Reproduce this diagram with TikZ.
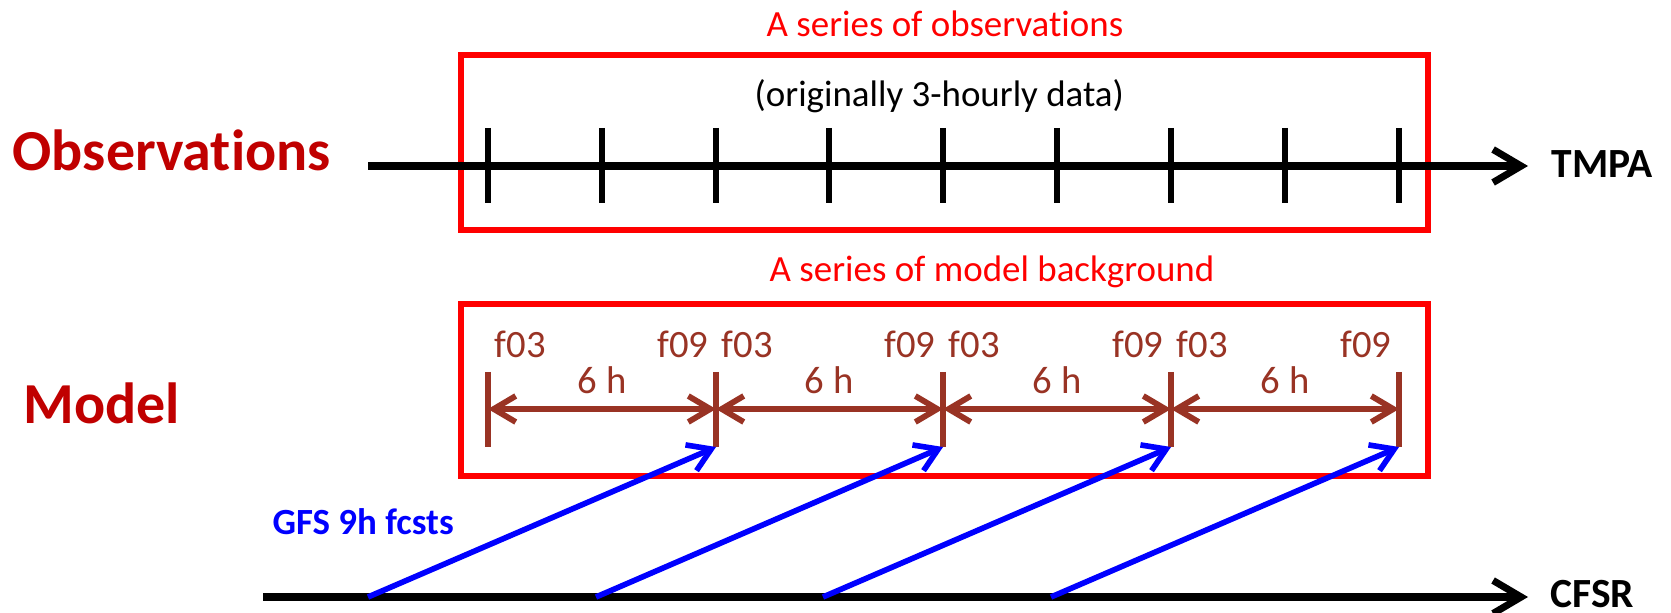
\documentclass[tikz,border=0pt]{standalone}
\usepackage{fontspec}
\setmainfont{Carlito}[Ligatures=NoCommon]
\usetikzlibrary{arrows.meta,positioning}
\definecolor{boxred}{RGB}{255,0,0}
\definecolor{labelred}{RGB}{192,0,0}
\definecolor{fcbrown}{RGB}{153,51,36}
\definecolor{fcblue}{RGB}{0,0,255}
\tikzstyle{rowlabel}=[font=\fontsize{16.5}{19}\selectfont\bfseries,text=labelred,anchor=west,inner sep=0pt]
\tikzstyle{seriesbox}=[draw=boxred,line width=1.45pt]
\tikzstyle{boxtitle}=[font=\fontsize{10.5}{12}\selectfont,text=boxred,anchor=west,inner sep=0pt]
\tikzstyle{notetext}=[font=\fontsize{10.5}{12}\selectfont,anchor=west,inner sep=0pt]
\tikzstyle{timeaxis}=[-{Straight Barb[length=2.8mm,width=3.3mm]},line width=2pt]
\tikzstyle{axislabel}=[font=\fontsize{11.8}{14}\selectfont\bfseries,anchor=west,inner sep=0pt]
\tikzstyle{obstick}=[line width=1.55pt]
\tikzstyle{fctick}=[draw=fcbrown,line width=1.5pt]
\tikzstyle{fclabel}=[font=\fontsize{11}{13}\selectfont,text=fcbrown,inner sep=0pt]
\tikzstyle{interval}=[{Straight Barb[length=2.2mm,width=2.6mm]}-{Straight Barb[length=2.2mm,width=2.6mm]},draw=fcbrown,line width=1.65pt]
\tikzstyle{fcst}=[-{Straight Barb[length=2.2mm,width=2.8mm]},draw=fcblue,line width=1.6pt]
\tikzstyle{fcstlabel}=[font=\fontsize{10.5}{12}\selectfont\bfseries,text=fcblue,anchor=west,inner sep=0pt]

\begin{document}
\begin{tikzpicture}[x=0.01cm,y=-0.01cm]
  \useasboundingbox (0,0) rectangle (1671,613);

  \node[rowlabel] (obslabel) at (12,150) {Observations};
  \node[rowlabel] (modellabel) at (23,403) {Model};

  % observations
  \node[boxtitle] (obstitle) at (766,24) {A series of observations};
  \draw[seriesbox] (461,55) rectangle (1428,230);
  \node[notetext] (note) at (754,96) {(originally 3-hourly data)};
  \coordinate (obsstart) at (368,166);
  \coordinate (obsend) at (1528,166);
  \node[axislabel] (tmpa) at (1551,164) {TMPA};
  \draw[timeaxis] (obsstart) -- (obsend);
  \draw[obstick] (488,128) -- (488,203);
  \draw[obstick] (602,128) -- (602,203);
  \draw[obstick] (716,128) -- (716,203);
  \draw[obstick] (829,128) -- (829,203);
  \draw[obstick] (943,128) -- (943,203);
  \draw[obstick] (1057,128) -- (1057,203);
  \draw[obstick] (1171,128) -- (1171,203);
  \draw[obstick] (1285,128) -- (1285,203);
  \draw[obstick] (1399,128) -- (1399,203);

  % model background
  \node[boxtitle] (modeltitle) at (769,272) {A series of model background};
  \draw[seriesbox] (461,304) rectangle (1428,476);
  \coordinate (t0) at (488,372); \coordinate (m0) at (488,409); \coordinate (b0) at (488,447);
  \coordinate (t1) at (716,372); \coordinate (m1) at (716,409); \coordinate (b1) at (716,447);
  \coordinate (t2) at (943,372); \coordinate (m2) at (943,409); \coordinate (b2) at (943,447);
  \coordinate (t3) at (1171,372); \coordinate (m3) at (1171,409); \coordinate (b3) at (1171,447);
  \coordinate (t4) at (1399,372); \coordinate (m4) at (1399,409); \coordinate (b4) at (1399,447);
  \draw[fctick] (t0) -- (b0);
  \draw[fctick] (t1) -- (b1);
  \draw[fctick] (t2) -- (b2);
  \draw[fctick] (t3) -- (b3);
  \draw[fctick] (t4) -- (b4);
  \draw[interval] (m0) -- (m1);
  \draw[interval] (m1) -- (m2);
  \draw[interval] (m2) -- (m3);
  \draw[interval] (m3) -- (m4);
  \node[fclabel] (h1) at (602,380) {6 h};
  \node[fclabel] (h2) at (829,380) {6 h};
  \node[fclabel] (h3) at (1057,380) {6 h};
  \node[fclabel] (h4) at (1285,380) {6 h};
  \node[fclabel,anchor=west] (s0) at (494,344) {f03};
  \node[fclabel,anchor=east] (e1) at (709,344) {f09};
  \node[fclabel,anchor=west] (s1) at (721,344) {f03};
  \node[fclabel,anchor=east] (e2) at (936,344) {f09};
  \node[fclabel,anchor=west] (s2) at (948,344) {f03};
  \node[fclabel,anchor=east] (e3) at (1164,344) {f09};
  \node[fclabel,anchor=west] (s3) at (1176,344) {f03};
  \node[fclabel,anchor=east] (e4) at (1392,344) {f09};

  % CFSR and GFS forecasts
  \node[fcstlabel] (gfs) at (272,522) {GFS 9h fcsts};
  \coordinate (cfsrstart) at (263,597);
  \coordinate (cfsrend) at (1528,597);
  \node[axislabel] (cfsr) at (1550,594) {CFSR};
  \draw[timeaxis] (cfsrstart) -- (cfsrend);
  \coordinate (g1) at (368,597);
  \coordinate (g2) at (596,597);
  \coordinate (g3) at (823,597);
  \coordinate (g4) at (1051,597);
  \draw[fcst] (g1) -- (b1);
  \draw[fcst] (g2) -- (b2);
  \draw[fcst] (g3) -- (b3);
  \draw[fcst] (g4) -- (b4);
\end{tikzpicture}
\end{document}
